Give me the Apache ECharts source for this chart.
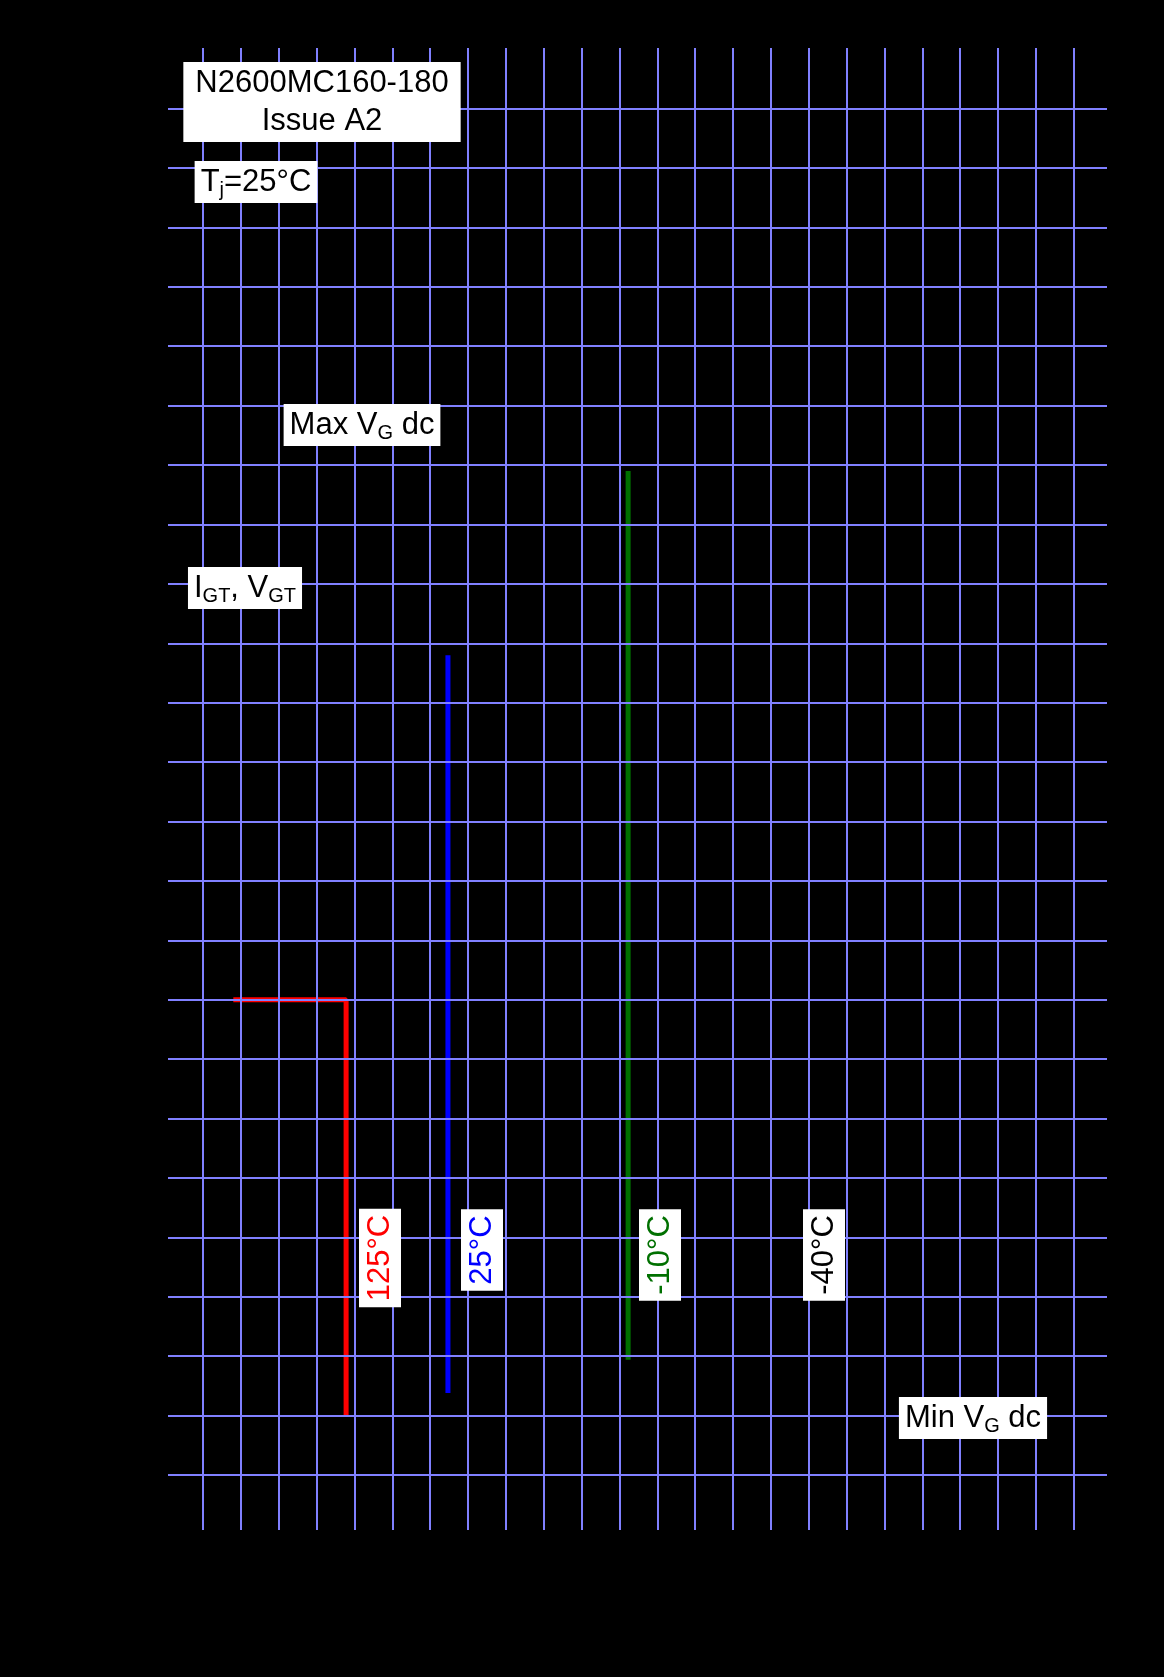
<!DOCTYPE html>
<html style="height: 100%">
<head>
<meta charset="utf-8">
<script src="https://cdn.jsdelivr.net/npm/echarts@6/dist/echarts.min.js"></script>
</head>
<body style="height: 100%; margin: 0; background: #000">
<div id="container" style="width: 1164px; height: 1677px;"></div>
<script>
// grid line positions, in grid units
var xLines = [0,1,2,3,4,5,6,7,8,9,10,11,12,13,14,15,16,17,18,19,20,21,22,23];
var yLines = [0,1,2,3,4,5,6,7,8,9,10,11,12,13,14,15,16,17,18,19,20,21,22,23];
// gate characteristic curves (black, as in the datasheet)
var curveMain = [[-0.42,5.02],[0,6.28],[1.02,8.44],[2.0,9.7],[3.03,10.96],[5.04,12.76],[7.02,14.47],
                 [9.03,15.47],[11.04,16.73],[13.04,17.98],[16.03,19.43],[19.03,20.5],[22.0,21.6],[23.88,22.04]];
var curveMin = [[0,0.33],[3.03,1.0],[9.03,1.67],[13.04,2.0],[17.5,2.43],[22.0,2.68]];
// temperature lines
var red125 = [[0.8,8],[3.78,8],[3.78,1]];
var blue25 = [[6.47,13.8],[6.47,1.38]];
var green10 = [[11.23,16.9],[11.23,1.94]];

var grid = '#8080ff';
var myChart = echarts.init(document.getElementById('container'));

// white label box centred on (x, y)
function box(x, y, text, color, rot, pad) {
	color = color || '#000';
	return {
		type: 'text', x: x, y: y, rotation: rot || 0, z: 100,
		style: {
			text: text, fill: color, fontFamily: 'Liberation Sans', fontSize: 31,
			align: 'center', verticalAlign: 'middle', lineHeight: 38,
			backgroundColor: '#fff', padding: pad || [2, 6, 2, 6],
			rich: {s: {fontSize: 20, fill: color, fontFamily: 'Liberation Sans', padding: [16, 0, 0, 0]}}
		}
	};
}

var option = {
	backgroundColor: '#000',
	animation: false,
	grid: {left: 168, top: 48, right: 57, bottom: 147},
	xAxis: {type: 'value', min: -0.925, max: 23.88, show: false, splitLine: {show: false}},
	yAxis: {type: 'value', min: -0.926, max: 24.02, show: false, splitLine: {show: false}},
	series: [
		{
			type: 'line', data: [], silent: true,
			markLine: {
				symbol: 'none', silent: true, label: {show: false},
				lineStyle: {color: grid, type: 'solid', width: 2},
				data: xLines.map(function (v) { return {xAxis: v}; })
					.concat(yLines.map(function (v) { return {yAxis: v}; }))
			}
		},
		{type: 'line', data: curveMain, symbol: 'none', smooth: true, lineStyle: {color: '#000', width: 4}},
		{type: 'line', data: curveMin, symbol: 'none', smooth: true, lineStyle: {color: '#000', width: 4}},
		{type: 'line', data: red125, symbol: 'none', lineStyle: {color: '#ff0000', width: 5}},
		{type: 'line', data: blue25, symbol: 'none', lineStyle: {color: '#0000ff', width: 5}},
		{type: 'line', data: green10, symbol: 'none', lineStyle: {color: '#007000', width: 5}}
	],
	graphic: [
		box(322, 102, 'N2600MC160-180\nIssue A2', null, 0, [2, 12, 2, 12]),
		box(256, 182, 'T{s|j}=25°C'),
		box(362, 425, 'Max V{s|G} dc'),
		box(245, 588, 'I{s|GT}, V{s|GT}'),
		box(973, 1418, 'Min V{s|G} dc'),
		box(380, 1258, '125°C', '#ff0000', Math.PI / 2),
		box(482, 1250, '25°C', '#0000ff', Math.PI / 2),
		box(660, 1255, '-10°C', '#007000', Math.PI / 2),
		box(824, 1255, '-40°C', '#000', Math.PI / 2)
	]
};
myChart.setOption(option, true);
</script>
</body>
</html>
